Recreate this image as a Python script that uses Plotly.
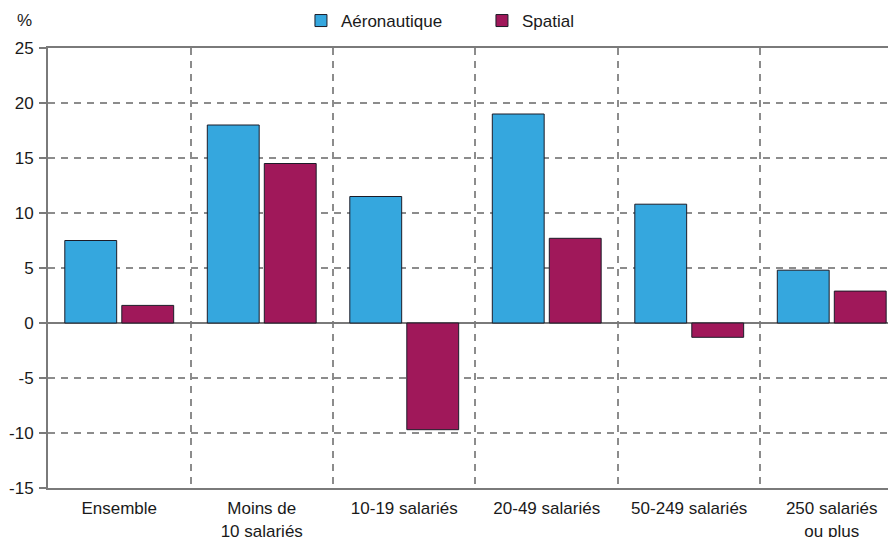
import plotly.graph_objects as go

categories = ["Ensemble", "Moins de<br>10 salariés", "10-19 salariés", "20-49 salariés",
              "50-249 salariés", "250 salariés<br>ou plus"]
aeronautique = [7.5, 18.0, 11.5, 19.0, 10.8, 4.8]
spatial = [1.6, 14.5, -9.7, 7.7, -1.3, 2.9]
y_tick_vals = [-15, -10, -5, 0, 5, 10, 15, 20, 25]
y_tick_labels = ["-15", "-10", "-5", "0", "5", "10", "15", "20", "25"]

FONT = "Liberation Sans, Arial, sans-serif"
GRID = "#8c8c8c"
AXIS = "#7a7a7a"

fig = go.Figure()
fig.add_trace(go.Bar(x=categories, y=aeronautique, name="Aéronautique",
                     marker=dict(color="#35A7DE", line=dict(color="#1c1c28", width=1))))
fig.add_trace(go.Bar(x=categories, y=spatial, name="Spatial",
                     marker=dict(color="#A0185A", line=dict(color="#1c1c28", width=1))))

fig.update_layout(
    width=888, height=529,
    margin=dict(l=40, r=0, t=40, b=49, autoexpand=False),
    paper_bgcolor="white", plot_bgcolor="white",
    font=dict(family=FONT, size=17, color="#1a1a1a"),
    barmode="group", bargap=0.2, bargroupgap=0.09,
    showlegend=True,
    legend=dict(orientation="h", x=0.2983, xanchor="left", y=1.0614, yanchor="middle",
                font=dict(size=17), bgcolor="rgba(0,0,0,0)", entrywidth=136),
    annotations=[dict(text="%", xref="paper", yref="paper", x=-0.0165, y=1.0614,
                      xanchor="right", yanchor="middle", showarrow=False,
                      font=dict(size=17))],
)
fig.update_xaxes(
    type="category", range=[-0.5, 5.451], tickson="boundaries", ticks="",
    showgrid=True, gridcolor=GRID, gridwidth=1.5, griddash="7px,6px",
    showline=True, linecolor=AXIS, linewidth=2, mirror=True,
    tickfont=dict(size=17), automargin=False, ticklabelstandoff=4,
)
fig.update_yaxes(
    range=[-15, 25], tickvals=y_tick_vals, ticktext=y_tick_labels,
    ticks="outside", ticklen=7, tickcolor=AXIS, tickwidth=1.5,
    showgrid=True, gridcolor=GRID, gridwidth=1.5, griddash="7px,6px",
    showline=True, linecolor=AXIS, linewidth=2,
    zeroline=True, zerolinecolor=AXIS, zerolinewidth=1.5,
    tickfont=dict(size=17), automargin=False, ticklabelstandoff=2,
)

fig.write_html("out.html")
